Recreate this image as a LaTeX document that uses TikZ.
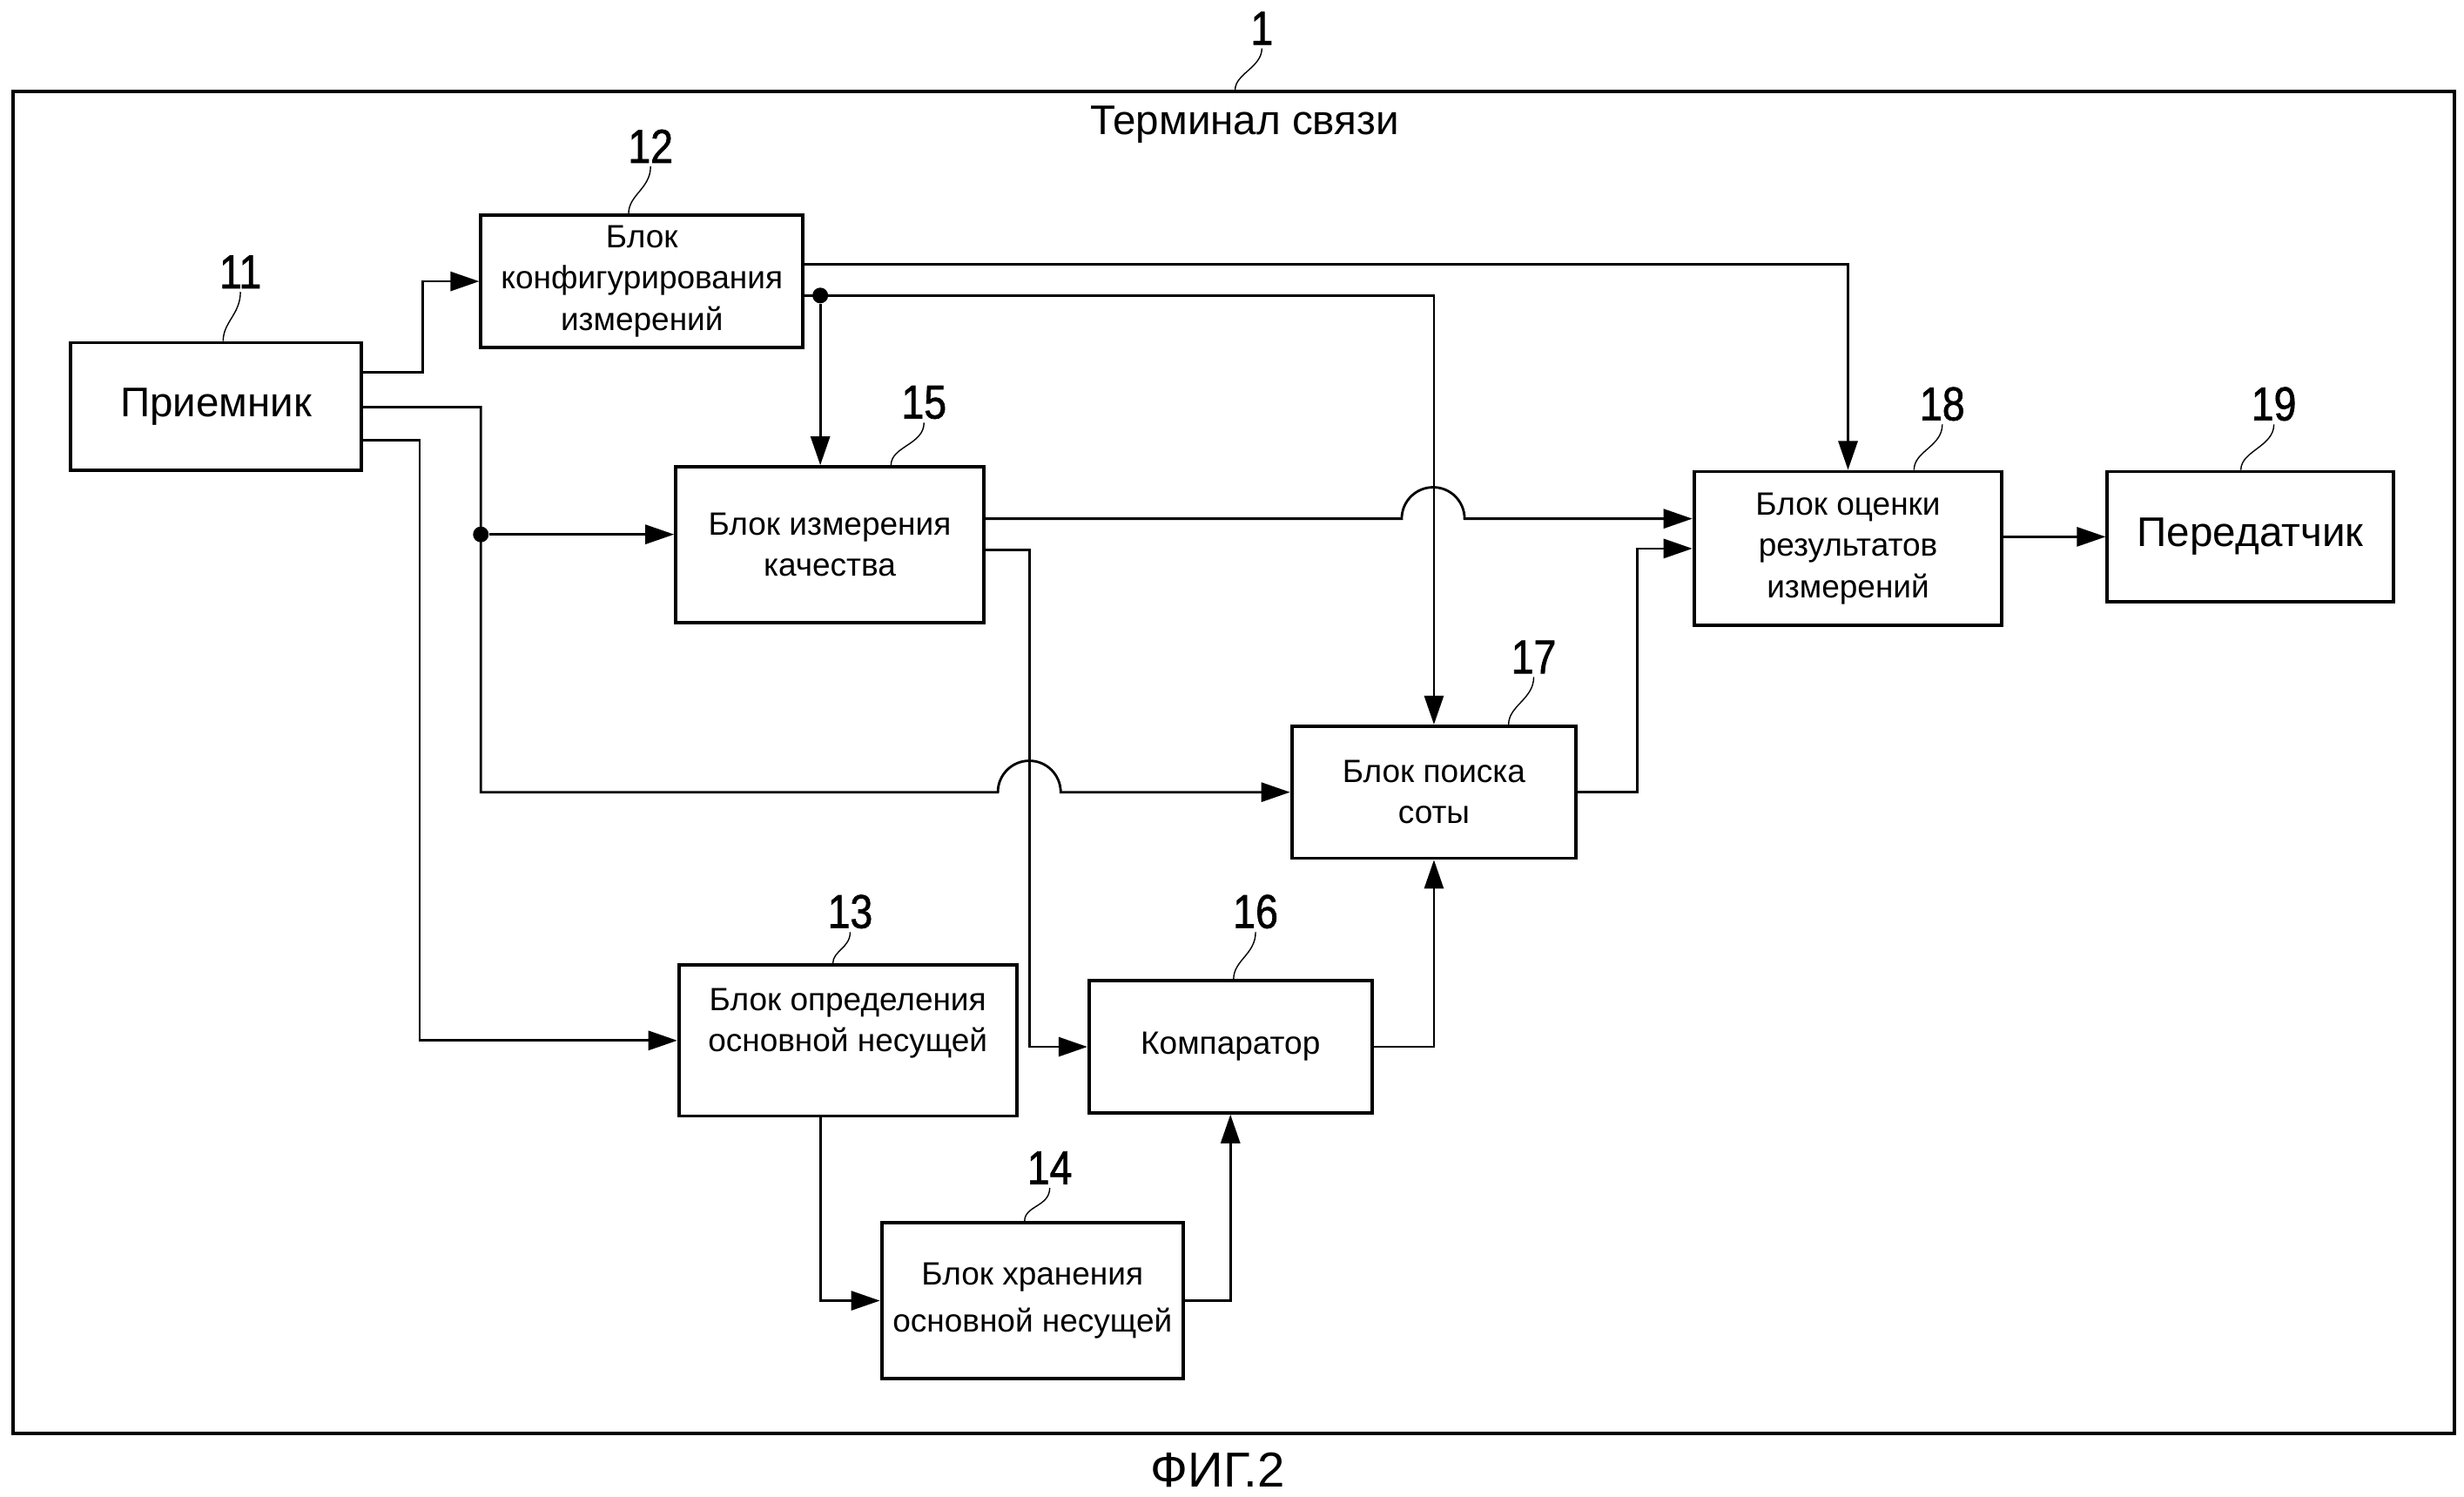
\documentclass[tikz,border=0pt]{standalone}
\usepackage{fontspec}
\setmainfont{Liberation Sans}
\newfontfamily\numfont{Liberation Sans}[FakeStretch=0.85,FakeBold=1.2]
\usetikzlibrary{arrows.meta}

\tikzset{
  blk/.style={draw, line width=1.1pt, inner sep=2pt, align=center,
    font=\fontsize{10.5}{13.5}\selectfont},
  bigblk/.style={blk, font=\fontsize{13.5}{16}\selectfont},
  conn/.style={line width=0.8pt},
  arr/.style={conn, -{Triangle[length=0.33cm,width=0.22cm]}},
  refnum/.style={font=\numfont\fontsize{15.5}{18}\selectfont, inner sep=1pt},
  leader/.style={line width=0.4pt},
  jdot/.style={circle, fill, inner sep=0pt, minimum size=0.18cm},
}

\begin{document}
\begin{tikzpicture}[x=0.018cm, y=-0.018cm]

    \useasboundingbox (0,0) rectangle (1568,952);

    % ==================================================
    % Terminal frame
    % ==================================================
    \node[draw, line width=1.1pt, inner sep=0pt,
      minimum width=27.972cm, minimum height=15.372cm] (term) at (785,485) {};
    \node[font=\fontsize{13.5}{16}\selectfont] (ttl) at (792,79) {Терминал связи};
    \node[font=\fontsize{16}{19}\selectfont] (fig) at (775,935) {ФИГ.2};

    % ==================================================
    % Blocks
    % ==================================================
    \node[bigblk, minimum width=3.33cm, minimum height=1.458cm] (rx) at (137.5,258.5) {Приемник};
    \node[blk, minimum width=3.69cm, minimum height=1.512cm] (cfg) at (408.5,179)
      {Блок\\конфигурирования\\измерений};
    \node[blk, minimum width=3.528cm, minimum height=1.782cm] (qual) at (528,346.5)
      {Блок измерения\\качества};
    \node[blk, minimum width=3.528cm, minimum height=1.764cm] (eval) at (1176,349)
      {Блок оценки\\результатов\\измерений};
    \node[bigblk, minimum width=3.276cm, minimum height=1.494cm] (tx) at (1432,341.5) {Передатчик};
    \node[blk, minimum width=3.258cm, minimum height=1.512cm] (srch) at (912.5,504)
      {Блок поиска\\соты};
    \node[blk, minimum width=3.87cm, minimum height=1.728cm] (pcd) at (539.5,662)
      {Блок определения\\основной несущей\\\mbox{}};
    \node[blk, minimum width=3.24cm, minimum height=1.512cm] (cmp) at (783,666) {Компаратор};
    \node[blk, minimum width=3.456cm, minimum height=1.782cm,
      font=\fontsize{10.5}{15.5}\selectfont] (pcs) at (657,827.5)
      {Блок хранения\\основной несущей};

    % ==================================================
    % Reference numbers
    % ==================================================
    \node[refnum] (n1) at (803,18) {1};
    \node[refnum] (n11) at (153,173) {11};
    \node[refnum] (n12) at (414,93) {12};
    \node[refnum] (n15) at (588,256) {15};
    \node[refnum] (n18) at (1236,257) {18};
    \node[refnum] (n19) at (1447,257) {19};
    \node[refnum] (n17) at (976,418) {17};
    \node[refnum] (n13) at (541,580) {13};
    \node[refnum] (n16) at (799,580) {16};
    \node[refnum] (n14) at (668,743) {14};

    \draw[leader] (n1.south) .. controls +(0,12) and +(0,-10) .. (term.north -| 786,0);
    \draw[leader] (n11.south) .. controls +(0,14) and +(0,-12) .. (rx.north -| 142,0);
    \draw[leader] (n12.south) .. controls +(0,14) and +(0,-12) .. (cfg.north -| 400,0);
    \draw[leader] (n15.south) .. controls +(0,14) and +(0,-12) .. (qual.north -| 567,0);
    \draw[leader] (n18.south) .. controls +(0,14) and +(0,-12) .. (eval.north -| 1218,0);
    \draw[leader] (n19.south) .. controls +(0,14) and +(0,-12) .. (tx.north -| 1426,0);
    \draw[leader] (n17.south) .. controls +(0,14) and +(0,-12) .. (srch.north -| 960,0);
    \draw[leader] (n13.south) .. controls +(0,10) and +(0,-8) .. (pcd.north -| 530,0);
    \draw[leader] (n16.south) .. controls +(0,14) and +(0,-12) .. (cmp.north -| 785,0);
    \draw[leader] (n14.south) .. controls +(0,12) and +(0,-10) .. (pcs.north -| 652,0);

    % ==================================================
    % Connections
    % ==================================================
    % receiver outputs
    \draw[arr] (rx.east |- 0,237) -- ++(38,0) |- (cfg.west);
    \draw[arr] (rx.east |- 0,259) -| (306,504) -- (635,504)
      arc[start angle=180, end angle=0, radius=0.36cm] -- (srch.west);
    \node[jdot] (j1) at (306,340) {};
    \draw[arr] (j1) -- (qual.west |- j1);
    \draw[arr] (rx.east |- 0,280) -- ++(36,0) |- (pcd.west);

    % measurement configuration outputs
    \draw[arr] (cfg.east |- 0,168) -| (eval.north);
    \node[jdot] (j2) at (522,188) {};
    \draw[arr] (cfg.east |- j2) -| (srch.north);
    \draw[arr] (j2) -- (qual.north -| j2);

    % quality measurement outputs
    \draw[arr] (qual.east |- 0,330) -- (892,330)
      arc[start angle=180, end angle=0, radius=0.36cm] -- (eval.west |- 0,330);
    \draw[arr] (qual.east |- 0,350) -- (655,350) |- (cmp.west);

    % cell search, evaluation, transmitter
    \draw[arr] (srch.east) -- (1042,504) |- (eval.west);
    \draw[arr] (eval.east |- tx.west) -- (tx.west);

    % primary carrier chain
    \draw[arr] (cmp.east) -| (srch.south);
    \draw[arr] (pcd.south -| 522,0) |- (pcs.west);
    \draw[arr] (pcs.east) -| (cmp.south);

\end{tikzpicture}
\end{document}
